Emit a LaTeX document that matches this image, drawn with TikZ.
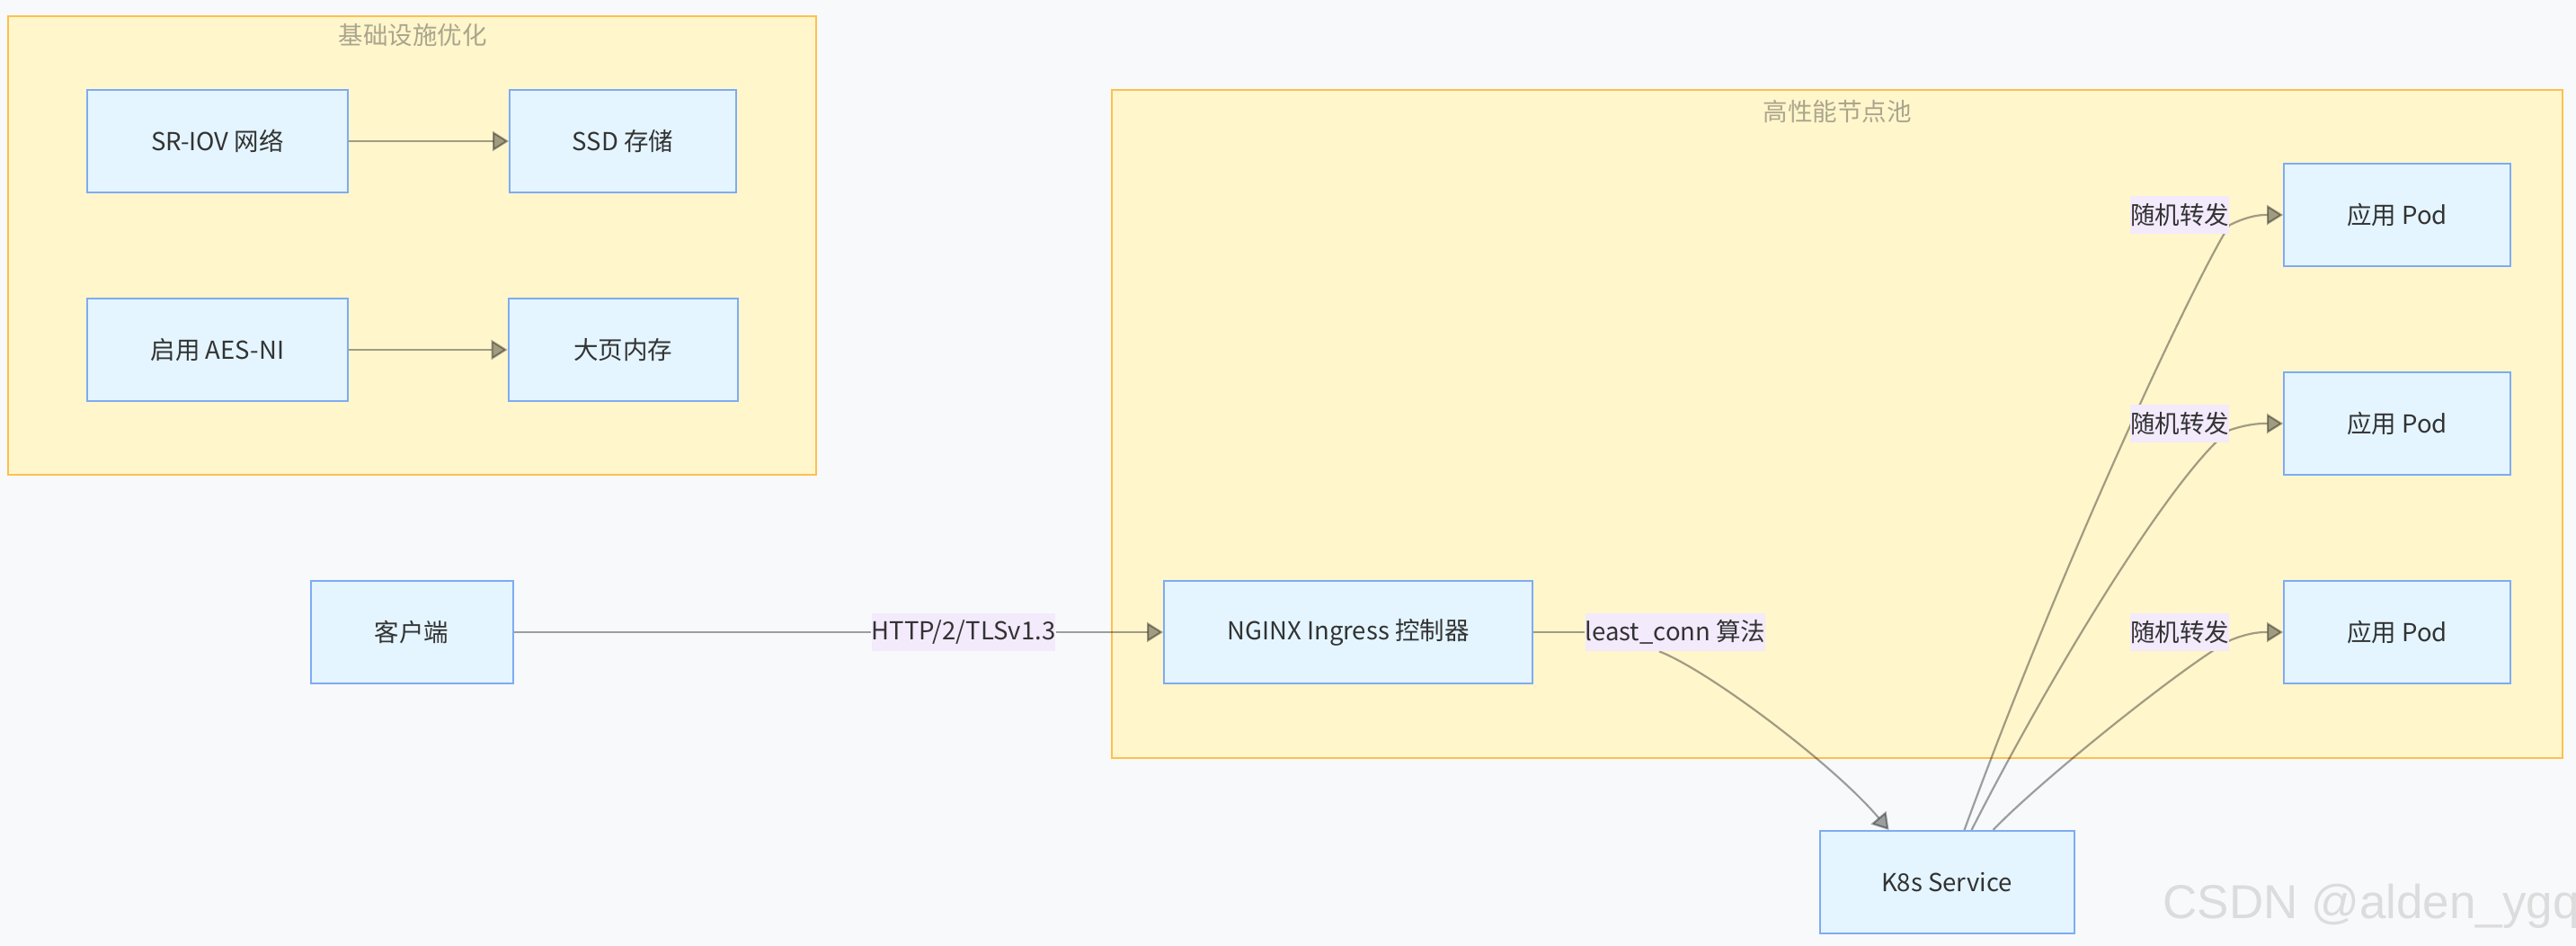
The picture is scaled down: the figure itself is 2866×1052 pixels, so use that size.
\documentclass[tikz,border=0pt]{standalone}
\usepackage{fontspec}
\setmainfont{Noto Sans CJK SC}
\newfontfamily\wmfont{Liberation Sans}
\usetikzlibrary{arrows.meta}
\pgfdeclarelayer{bg}
\pgfdeclarelayer{edges}
\pgfsetlayers{bg,edges,main}
\definecolor{pagebg}{HTML}{F8F9FB}
\definecolor{clfill}{HTML}{FFF6CC}
\definecolor{cldraw}{HTML}{FFBF4F}
\definecolor{ndfill}{HTML}{E4F5FF}
\definecolor{nddraw}{HTML}{7EABF3}
\definecolor{lbfill}{HTML}{F3EAFC}
\definecolor{txt}{HTML}{333333}
\definecolor{cltxt}{HTML}{ABA58C}
\definecolor{wm}{HTML}{DCDCDC}
\begin{document}
\begin{tikzpicture}[x=0.5pt,y=-0.5pt,
  nbox/.style={draw=nddraw,fill=ndfill,line width=1pt,minimum height=57pt,inner sep=0pt,text=txt,font=\fontsize{13.75pt}{16pt}\selectfont},
  elabel/.style={fill=lbfill,inner xsep=0pt,inner ysep=0pt,minimum height=21pt,text=txt,font=\fontsize{13.75pt}{16pt}\selectfont},
  cluster/.style={draw=cldraw,fill=clfill,line width=1pt},
  ctitle/.style={text=cltxt,font=\fontsize{13.75pt}{16pt}\selectfont},
  conn/.style={draw=black,opacity=0.37,line width=1.1pt},
  arr/.style={conn,-{Triangle[length=9pt,width=11pt]}}
]
\useasboundingbox (0,0) rectangle (2866,1052);

% page and clusters
\begin{pgfonlayer}{bg}
\fill[pagebg] (0,0) rectangle (2866,1052);
\draw[cluster] (9,18) rectangle (908,528);
\draw[cluster] (1237,100) rectangle (2851,843);
\end{pgfonlayer}
\node[ctitle] (t1) at (459,39) {基础设施优化};
\node[ctitle] (t2) at (2044,124) {高性能节点池};

% nodes
\node[nbox,minimum width=145pt] (sriov) at (242,157) {SR-IOV 网络};
\node[nbox,minimum width=126pt] (ssd) at (693,157) {SSD 存储};
\node[nbox,minimum width=145pt] (aes) at (242,389) {启用 AES-NI};
\node[nbox,minimum width=127.5pt] (huge) at (693,389) {大页内存};
\node[nbox,minimum width=112.5pt] (client) at (458,703) {客户端};
\node[nbox,minimum width=205pt] (nginx) at (1500,703) {NGINX Ingress 控制器};
\node[nbox,minimum width=126pt] (pod1) at (2667,239) {应用 Pod};
\node[nbox,minimum width=126pt] (pod2) at (2667,471) {应用 Pod};
\node[nbox,minimum width=126pt] (pod3) at (2667,703) {应用 Pod};
\node[nbox,minimum width=141.5pt] (k8s) at (2166,981) {K8s Service};

% edge labels
\node[elabel] (http) at (1072,703) {HTTP/2/TLSv1.3};
\node[elabel] (lc) at (1864,703) {least\_conn 算法};
\node[elabel] (r1) at (2425,239) {随机转发};
\node[elabel] (r2) at (2425,471) {随机转发};
\node[elabel] (r3) at (2425,703) {随机转发};

% watermark
\node[anchor=base west,inner sep=0pt,text=wm,font=\wmfont\fontsize{26.5pt}{30pt}\selectfont] (wmk) at (2406,1022) {CSDN @alden\_ygq};

% edges
\begin{pgfonlayer}{edges}
\draw[arr] (sriov.east) -- (ssd.west);
\draw[arr] (aes.east) -- (huge.west);
\draw[conn] (client.east) -- (http.west);
\draw[arr] (http.east) -- (nginx.west);
\draw[conn] (nginx.east) -- (lc.west);
\draw[arr] ([xshift=-9pt]lc.south) .. controls (1900,745) and (2040,850) .. ([xshift=39pt]k8s.north west);
\draw[arr] ([xshift=81pt]k8s.north west) .. controls (2300,610) and (2445,305) .. ([yshift=5pt]r1.south east) .. controls (2505,238) and (2520,239) .. (pod1.west);
\draw[arr] ([xshift=85pt]k8s.north west) .. controls (2290,734) and (2420,525) .. ([yshift=7pt]r2.south east) .. controls (2505,470) and (2520,471) .. (pod2.west);
\draw[arr] ([xshift=97pt]k8s.north west) .. controls (2270,868) and (2430,740) .. ([yshift=6pt]r3.south east) .. controls (2505,702) and (2520,703) .. (pod3.west);
\end{pgfonlayer}
\end{tikzpicture}
\end{document}
